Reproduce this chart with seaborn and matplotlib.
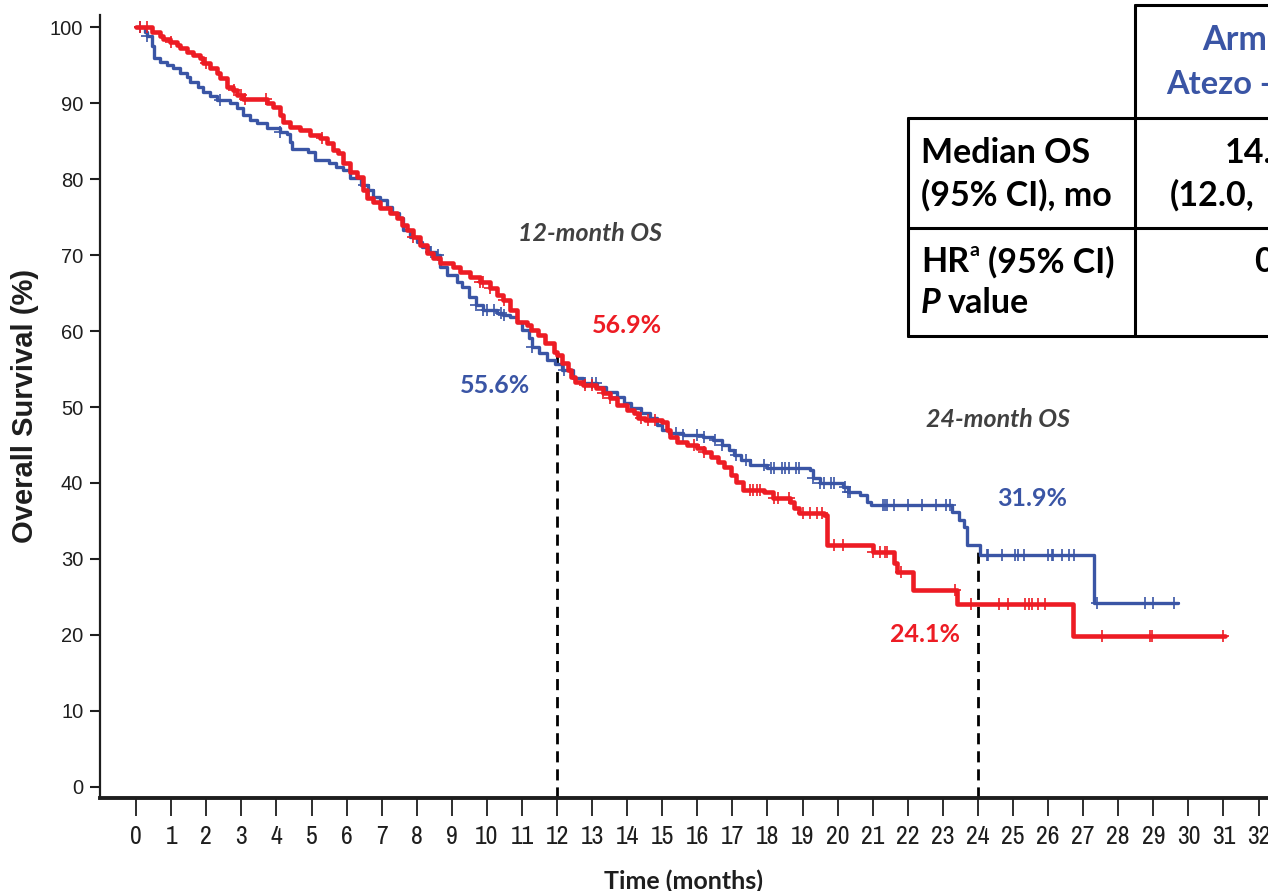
import numpy as np
import pandas as pd
import matplotlib
matplotlib.use("Agg")
import matplotlib.pyplot as plt
from matplotlib.lines import Line2D
from matplotlib import font_manager
import seaborn as sns

# ---------------- data ----------------
blue_t = [0, 0.25, 0.3, 0.45, 0.5, 0.68, 0.88, 1.05, 1.25, 1.45, 1.55, 1.75, 1.9, 2.1, 2.3, 2.68,
          2.88, 3.05, 3.25, 3.45, 3.73, 4.1, 4.3, 4.4, 4.45, 4.9, 5.1, 5.5, 5.7, 5.9, 6.1, 6.4,
          6.6, 6.75, 6.95, 7.15, 7.3, 7.5, 7.6, 7.8, 8.0, 8.15, 8.35, 8.55, 8.65, 8.85, 9.15,
          9.3, 9.5, 9.7, 9.9, 10.3, 10.45, 10.65, 10.85, 11.0, 11.2, 11.3, 11.5, 11.7, 11.95,
          12.15, 12.45, 12.75, 13.15, 13.4, 13.7, 13.9, 14.1, 14.4, 14.65, 14.85, 15.0, 15.2,
          15.6, 16.15, 16.45, 16.7, 16.9, 17.05, 17.25, 17.5, 18.0, 19.2, 19.3, 19.5, 20.15,
          20.3, 20.65, 20.85, 20.95, 23.25, 23.45, 23.6, 23.7, 24.05, 27.3]
blue_s = [100, 99.4, 98.8, 97.5, 96.0, 95.4, 95.0, 94.6, 94.0, 93.4, 92.8, 92.1, 91.4, 91.0, 90.4, 90.0,
          89.3, 88.4, 87.8, 87.4, 86.7, 86.2, 86.0, 84.9, 84.0, 83.6, 82.5, 82.1, 81.6, 81.2, 80.1, 79.2,
          78.6, 77.6, 77.2, 76.3, 75.5, 74.9, 73.3, 72.4, 71.7, 71.1, 70.4, 70.0, 68.4, 67.4, 66.4,
          65.8, 64.5, 63.4, 62.8, 62.4, 62.1, 61.8, 61.2, 60.1, 59.1, 57.9, 57.1, 56.2, 55.6,
          54.9, 53.8, 53.2, 52.6, 52.0, 51.3, 50.5, 49.9, 49.2, 48.6, 47.6, 47.0, 46.6,
          46.3, 46.0, 45.7, 45.0, 44.3, 43.7, 43.0, 42.4, 42.0, 41.7, 40.6, 40.0, 39.5,
          38.8, 38.4, 37.5, 37.1, 36.2, 35.1, 34.2, 31.9, 30.5, 24.2]
blue_end = 29.7

red_t = [0, 0.45, 0.68, 0.77, 0.97, 1.17, 1.25, 1.45, 1.62, 1.82, 1.9, 2.1, 2.3, 2.4, 2.6, 2.77,
         2.88, 3.05, 3.73, 3.9, 4.1, 4.2, 4.4, 4.68, 4.96, 5.25, 5.45, 5.62, 5.75, 5.9, 6.1, 6.3,
         6.47, 6.58, 6.75, 6.95, 7.24, 7.44, 7.58, 7.73, 7.9, 8.1, 8.3, 8.47, 8.67, 9.04, 9.24,
         9.52, 9.8, 10.1, 10.3, 10.45, 10.66, 10.86, 11.15, 11.25, 11.45, 11.65, 11.9, 12.0,
         12.15, 12.3, 12.4, 12.5, 12.75, 13.1, 13.3, 13.5, 13.7, 14.0, 14.2, 14.3, 14.5, 15.0,
         15.13, 15.22, 15.42, 15.7, 16.0, 16.2, 16.4, 16.6, 16.75, 16.95, 17.1, 17.3, 17.9,
         18.15, 18.65, 18.75, 18.9, 19.6, 19.7, 21.0, 21.6, 21.7, 22.15, 23.4, 26.7]
red_s = [100, 99.3, 98.9, 98.5, 98.0, 97.6, 97.2, 96.7, 96.3, 95.9, 95.3, 94.6, 94.0, 93.3, 92.1, 91.7,
         91.1, 90.6, 90.0, 89.5, 88.4, 87.5, 86.8, 86.4, 85.8, 85.4, 84.7, 83.8, 83.4, 82.1, 80.9, 80.3,
         78.6, 77.5, 77.0, 76.2, 75.5, 74.9, 73.9, 73.3, 72.4, 71.3, 70.3, 69.6, 68.9, 68.4, 67.8,
         67.1, 66.4, 65.7, 64.7, 64.1, 62.8, 61.2, 60.8, 60.1, 59.5, 58.4, 57.2, 56.9,
         55.8, 54.9, 53.9, 53.3, 52.9, 52.5, 51.8, 51.2, 50.3, 49.6, 49.2, 48.6, 48.3, 48.0,
         47.0, 46.1, 45.4, 45.0, 44.6, 44.1, 43.4, 42.8, 42.1, 41.0, 40.1, 39.1, 38.8,
         38.0, 37.5, 36.7, 36.0, 35.8, 31.8, 30.9, 29.5, 28.3, 25.9, 24.1, 19.9]
red_end = 31.05

blue_cens = [0.1, 0.3, 2.4, 4.1, 6.5, 6.65, 8.4, 8.6, 9.7, 9.9, 10.0, 10.2, 10.4, 10.5, 11.3,
             12.2, 12.8, 13.0, 13.1, 13.7, 14.4, 15.4, 15.6, 16.0, 16.2, 16.5, 16.7, 17.1, 17.4,
             17.9, 18.1, 18.2, 18.4, 18.5, 18.6, 18.8, 18.9, 19.3, 19.5, 19.6, 19.8, 19.9, 20.2,
             20.3, 20.35, 21.3, 21.35, 21.4, 21.6, 22.0, 22.4, 22.8, 23.1, 23.2, 24.25, 24.3,
             24.7, 25.05, 25.15, 25.3, 26.0, 26.1, 26.15, 26.4, 26.6, 26.75, 27.4, 28.75, 29.0, 29.6]
red_cens = [0.1, 0.3, 1.0, 2.0, 2.8, 3.0, 3.1, 3.7, 5.3, 7.9, 9.8, 9.9, 10.1, 10.5, 12.8, 13.0,
            13.3, 13.5, 14.4, 14.6, 14.8, 15.9, 16.2, 17.5, 17.6, 17.7, 17.8, 18.2, 18.3, 18.6,
            19.0, 19.2, 19.4, 19.55, 19.9, 20.15, 21.0, 21.2, 21.35, 21.4, 21.8, 23.35, 23.8,
            24.6, 24.85, 25.35, 25.45, 25.55, 25.7, 25.9, 27.55, 28.9, 28.95, 31.0]

os12_blue, os12_red = 55.6, 56.9
os24_blue, os24_red = 31.9, 24.1
landmarks = [12, 24]

x_ticks = list(range(0, 33))
y_ticks = list(range(0, 101, 10))

table_left_col = ["Median OS", "(95% CI), mo"]
table_header = ["Arm", "Atezo -"]
table_median = ["14.", "(12.0,"]
table_hr = "0"

BLUE = "#3a55a5"
RED = "#ed1c24"
GRAY = "#404040"
INK = "#1e1e1e"

# ---------------- style ----------------
sns.set_style("ticks")
ttf = font_manager.fontManager.ttflist
names = {f.name for f in ttf}
narrow_cands = [f.name for f in ttf if ("Narrow" in f.name or "Condensed" in f.name)]
arial = "Liberation Sans"
calibri = "Lato" if "Lato" in names else "DejaVu Sans"
plt.rcParams["font.family"] = [arial, "DejaVu Sans"]

if narrow_cands:
    xt_kw = dict(family=[narrow_cands[0], "DejaVu Sans"], fontsize=18.5)
else:
    xt_kw = dict(family=[arial, "DejaVu Sans"], fontsize=15)

W, H = 1268, 891
fig = plt.figure(figsize=(W / 100, H / 100), dpi=100)
ax = fig.add_axes([100 / W, (H - 797.5) / H, 1 - 100 / W, (797.5 - 15) / H])


def px(x, y):
    return (x / W, 1 - y / H)


def step_df(t, s, end):
    return pd.DataFrame({"t": list(t) + [end], "s": list(s) + [s[-1]]})


def cens_y(t, s, c):
    idx = np.searchsorted(np.asarray(t), np.asarray(c), side="right") - 1
    return np.asarray(s)[idx]


bdf = step_df(blue_t, blue_s, blue_end)
rdf = step_df(red_t, red_s, red_end)
sns.lineplot(data=bdf, x="t", y="s", ax=ax, color=BLUE, lw=2.4, drawstyle="steps-post",
             estimator=None, sort=False, zorder=3)
sns.lineplot(data=rdf, x="t", y="s", ax=ax, color=RED, lw=3.3, drawstyle="steps-post",
             estimator=None, sort=False, zorder=4)
ax.plot(blue_cens, cens_y(blue_t, blue_s, blue_cens), ls="none", marker="+", ms=9,
        mew=1.2, color=BLUE, zorder=3)
ax.plot(red_cens, cens_y(red_t, red_s, red_cens), ls="none", marker="+", ms=9,
        mew=1.2, color=RED, zorder=4)

# landmark dashed lines
ax.vlines(landmarks[0], -1.4, max(os12_blue, os12_red), colors="black", linestyles=(0, (4, 2.5)),
          lw=2, zorder=2)
ax.vlines(landmarks[1], -1.4, os24_blue, colors="black", linestyles=(0, (4, 2.5)), lw=2, zorder=2)

ax.set_xlim(-1.03, 32.27)
ax.set_ylim(-1.4, 101.6)
ax.set_xticks(x_ticks)
ax.set_yticks(y_ticks)
ax.set_xticklabels([str(v) for v in x_ticks], color=INK, **xt_kw)
ax.set_yticklabels([str(v) for v in y_ticks], fontsize=14.5, family=[arial, "DejaVu Sans"],
                   color=INK)
ax.tick_params(axis="x", length=13, width=1.3, pad=7, colors=INK)
ax.tick_params(axis="y", length=7, width=1.5, pad=5, colors=INK)
sns.despine(ax=ax, top=True, right=True)
ax.spines["left"].set_linewidth(1.6)
ax.spines["bottom"].set_linewidth(2.8)
ax.spines["left"].set_color(INK)
ax.spines["bottom"].set_color(INK)

ax.set_ylabel("Overall Survival (%)", fontsize=21, fontweight="bold", color=INK,
              family=[arial, "DejaVu Sans"], labelpad=8)
ax.set_xlabel("Time (months)", fontsize=18, fontweight="bold", color=INK,
              family=[calibri, "DejaVu Sans"], labelpad=15)

# annotations
tkw = dict(family=[calibri, "DejaVu Sans"], fontweight="bold", ha="center", va="center")
ax.text(12.94, 72.8, "12-month OS", color=GRAY, style="italic", fontsize=18, **tkw)
ax.text(24.57, 48.3, "24-month OS", color=GRAY, style="italic", fontsize=18, **tkw)
ax.text(14.0, 60.7, f"{os12_red}%", color=RED, fontsize=18, **tkw)
ax.text(10.23, 52.8, f"{os12_blue}%", color=BLUE, fontsize=18, **tkw)
ax.text(25.54, 38.0, f"{os24_blue}%", color=BLUE, fontsize=18, **tkw)
ax.text(22.49, 20.0, f"{os24_red}%", color=RED, fontsize=18, **tkw)

# table (cut at the right edge as in the reference)
lkw = dict(color="black", lw=2.2, transform=fig.transFigure, zorder=10)
for (x0, y0, x1, y1) in [(1135, 5, 1268, 5), (908, 118, 1268, 118), (908, 228, 1268, 228),
                         (908, 336, 1268, 336), (908, 118, 908, 336), (1135, 5, 1135, 336)]:
    (a, b), (c, d) = px(x0, y0), px(x1, y1)
    fig.add_artist(Line2D([a, c], [b, d], **lkw))

fkw = dict(family=[calibri, "DejaVu Sans"], fontweight="bold", fontsize=24.5, va="center",
           ha="left", transform=fig.transFigure, zorder=11)
fig.text(*px(921, 153), table_left_col[0], color="black", **fkw)
fig.text(*px(921, 195), table_left_col[1], color="black", **fkw)
fig.text(*px(921, 262), "HR", color="black", **fkw)
fig.text(*px(969, 251), "a", color="black", **{**fkw, "fontsize": 14})
fig.text(*px(988, 262), "(95% CI)", color="black", **fkw)
fig.text(*px(921, 303), "P", color="black", style="italic", **fkw)
fig.text(*px(948, 303), "value", color="black", **fkw)
fig.text(*px(1202, 40), table_header[0], color=BLUE, **fkw)
fig.text(*px(1166, 84), table_header[1], color=BLUE, **{**fkw, "fontsize": 23.5})
fig.text(*px(1225, 153), table_median[0], color="black", **fkw)
fig.text(*px(1170, 195), table_median[1], color="black", **fkw)
fig.text(*px(1254, 262), table_hr, color="black", **fkw)

fig.savefig("out.png", dpi=100)
